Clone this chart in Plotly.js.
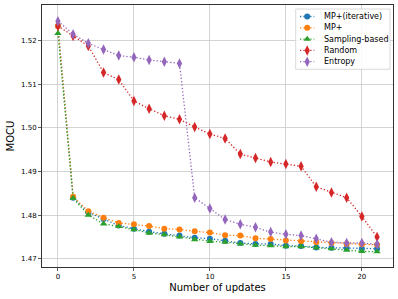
<!DOCTYPE html>
<html>
<head>
<meta charset="utf-8">
<script src="https://cdn.plot.ly/plotly-3.0.1.min.js"></script>
<style>html,body{margin:0;padding:0;background:#fff;}#chart{width:398px;height:299px;}</style>
</head>
<body>
<div id="chart"></div>
<script>
const updates = [0,1,2,3,4,5,6,7,8,9,10,11,12,13,14,15,16,17,18,19,20,21];
const mpIterative = [1.5234,1.4840,1.4806,1.4791,1.4776,1.4769,1.4762,1.4757,1.4753,1.4748,1.4746,1.4741,1.4736,1.4734,1.4734,1.4730,1.4729,1.4726,1.4725,1.4724,1.4723,1.4723];
const mpPlus = [1.5234,1.4842,1.4809,1.4794,1.4782,1.4779,1.4775,1.4769,1.4767,1.4763,1.4760,1.4754,1.4753,1.4747,1.4745,1.4742,1.4740,1.4738,1.4736,1.4734,1.4733,1.4732];
const samplingBased = [1.5217,1.4839,1.4800,1.4780,1.4774,1.4767,1.4759,1.4755,1.4750,1.4744,1.4740,1.4738,1.4734,1.4731,1.4730,1.4728,1.4728,1.4725,1.4723,1.4720,1.4717,1.4716];
const randomSel = [1.5234,1.5211,1.5188,1.5127,1.5111,1.5062,1.5044,1.5028,1.5020,1.5002,1.4986,1.4976,1.4940,1.4931,1.4922,1.4917,1.4912,1.4865,1.4852,1.4840,1.4797,1.4750];
const entropy = [1.5245,1.5215,1.5194,1.5180,1.5166,1.5162,1.5156,1.5152,1.5148,1.4840,1.4815,1.4790,1.4779,1.4772,1.4761,1.4756,1.4753,1.4746,1.4738,1.4736,1.4736,1.4733];

const seriesNames = ['MP+(iterative)','MP+','Sampling-based','Random','Entropy'];
const seriesData = [mpIterative, mpPlus, samplingBased, randomSel, entropy];
const xTickVals = [0,5,10,15,20];
const yTickVals = [1.47,1.48,1.49,1.50,1.51,1.52];

// styles
const colors = ['#1f77b4','#ff7f0e','#2ca02c','#d62728','#9467bd'];
const symbols = ['circle','circle','triangle-up','diamond-tall','diamond-tall'];
const sizes = [6,6,6.5,7.5,7.5];
const DOT = '1.3px,2.1px';
const FONT = 'DejaVu Sans, Liberation Sans, sans-serif';

const traces = seriesData.map((ys,i)=>({
  x: updates, y: ys, type:'scatter', mode:'lines+markers', name: seriesNames[i],
  line:{color:colors[i], width:1.3, dash:DOT},
  marker:{color:colors[i], symbol:symbols[i], size:sizes[i]},
  xaxis:'x', yaxis:'y', showlegend:false, cliponaxis:false
}));

// manual compact legend (pixel layout on an overlay axis)
const leg = {left:295.7, right:390, top:9, bottom:69.3, rowY:[16.5,27.8,39.1,50.4,61.7], lineX0:300, lineX1:314.3, markX:307.2, textX:322};
traces.push({
  x:[leg.left,leg.right,leg.right,leg.left,leg.left], y:[leg.top,leg.top,leg.bottom,leg.bottom,leg.top],
  type:'scatter', mode:'lines', fill:'toself', fillcolor:'rgba(255,255,255,0.85)',
  line:{color:'#d0d0d0', width:0.8}, xaxis:'x2', yaxis:'y2', showlegend:false, hoverinfo:'skip'
});
const annotations = [];
seriesNames.forEach((nm,i)=>{
  traces.push({
    x:[leg.lineX0, leg.lineX1], y:[leg.rowY[i], leg.rowY[i]], type:'scatter', mode:'lines',
    line:{color:colors[i], width:1.3, dash:DOT}, xaxis:'x2', yaxis:'y2', showlegend:false, hoverinfo:'skip'
  });
  traces.push({
    x:[leg.markX], y:[leg.rowY[i]], type:'scatter', mode:'markers',
    marker:{color:colors[i], symbol:symbols[i], size:sizes[i]}, xaxis:'x2', yaxis:'y2', showlegend:false, hoverinfo:'skip'
  });
  annotations.push({xref:'x2', yref:'y2', x:leg.textX, y:leg.rowY[i], text:nm, showarrow:false,
    xanchor:'left', yanchor:'middle', font:{family:FONT, size:8, color:'#000'}});
});

const layout = {
  width:398, height:299,
  margin:{l:42, r:5, t:5, b:32, pad:0},
  paper_bgcolor:'#fff', plot_bgcolor:'#fff',
  showlegend:false,
  font:{family:FONT, size:7, color:'#000'},
  xaxis:{
    range:[-1.05,22.05], tickvals:xTickVals, ticktext:xTickVals.map(String),
    showgrid:true, gridcolor:'#c8c8c8', gridwidth:0.8, zeroline:false,
    showline:true, mirror:true, linecolor:'#333', linewidth:1,
    ticks:'outside', ticklen:3, tickwidth:0.8, tickcolor:'#333',
    tickfont:{family:FONT, size:7, color:'#000'},
    title:{text:'Number of updates', font:{family:FONT, size:10, color:'#000'}, standoff:3},
    automargin:false
  },
  yaxis:{
    range:[1.4681,1.5282], tickvals:yTickVals, ticktext:yTickVals.map(v=>v.toFixed(2)),
    showgrid:true, gridcolor:'#c8c8c8', gridwidth:0.8, zeroline:false,
    showline:true, mirror:true, linecolor:'#333', linewidth:1,
    ticks:'outside', ticklen:3, tickwidth:0.8, tickcolor:'#333',
    tickfont:{family:FONT, size:7, color:'#000'},
    title:{text:'MOCU', font:{family:FONT, size:10, color:'#000'}, standoff:4},
    automargin:false
  },
  xaxis2:{overlaying:'x', range:[42,393], visible:false, fixedrange:true},
  yaxis2:{overlaying:'y', range:[267,5], visible:false, fixedrange:true},
  annotations: annotations
};

Plotly.newPlot('chart', traces, layout, {staticPlot:true, displayModeBar:false});
</script>
</body>
</html>
